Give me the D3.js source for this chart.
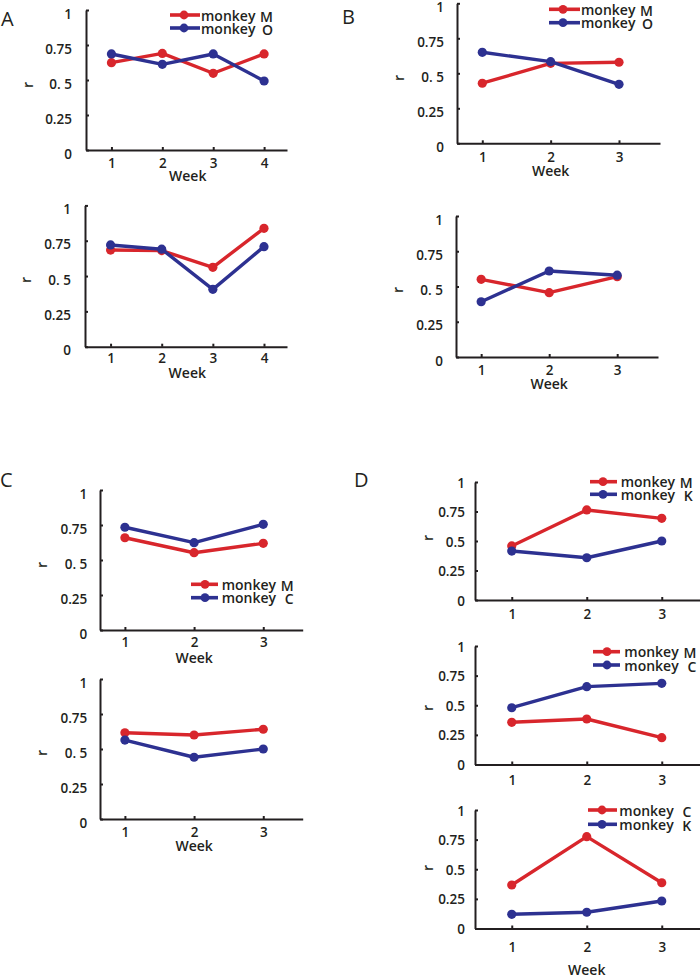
<!DOCTYPE html>
<html><head><meta charset="utf-8">
<script src="https://cdn.jsdelivr.net/npm/d3@7"></script>
<style>
html,body{margin:0;padding:0;background:#fff;}
svg{display:block;font-family:"Open Sans",sans-serif;}
</style></head><body>
<svg id="chart" width="700" height="976"></svg>
<script>
// ---------- data ----------
const weeksA = [1, 2, 3, 4];
const weeksBCD = [1, 2, 3];
const yTickValues = [0, 0.25, 0.5, 0.75, 1];
const yTickLabelsABC = ["0", "0.25", "0. 5", "0.75", "1"];
const yTickLabelsD = ["0", "0.25", "0.5", "0.75", "1"];
const xAxisTitle = "Week";
const yAxisTitle = "r";
const legendWord = "monkey";
const panelLetters = ["A", "B", "C", "D"];

const legendMO = ["M", "O"];
const legendMC = ["M", "C"];
const legendMK = ["M", "K"];
const legendCK = ["C", "K"];

const aTopMonkeyM = [0.624, 0.69, 0.548, 0.686];
const aTopMonkeyO = [0.686, 0.612, 0.686, 0.493];
const aBotMonkeyM = [0.684, 0.68, 0.562, 0.838];
const aBotMonkeyO = [0.72, 0.69, 0.406, 0.708];

const bTopMonkeyM = [0.429, 0.571, 0.579];
const bTopMonkeyO = [0.65, 0.583, 0.421];
const bBotMonkeyM = [0.551, 0.456, 0.57];
const bBotMonkeyO = [0.392, 0.61, 0.58];

const cTopMonkeyM = [0.659, 0.552, 0.619];
const cTopMonkeyC = [0.734, 0.624, 0.755];
const cBotMonkeyM = [0.616, 0.6, 0.641];
const cBotMonkeyC = [0.564, 0.441, 0.5];

const dTopMonkeyM = [0.458, 0.763, 0.692];
const dTopMonkeyK = [0.415, 0.358, 0.5];
const dMidMonkeyM = [0.356, 0.384, 0.226];
const dMidMonkeyC = [0.479, 0.657, 0.685];
const dBotMonkeyC = [0.367, 0.775, 0.386];
const dBotMonkeyK = [0.12, 0.137, 0.232];

// ---------- styles ----------
const RED = "#d8262c";
const BLUE = "#2d3191";
const INK = "#231f20";

// ---------- layout ----------
const panels = [
  {weeks: weeksA, red: aTopMonkeyM, blue: aTopMonkeyO, yLabels: yTickLabelsABC,
   ax: 86, xEnd: 287, xDom: [0.5, 4.45], y0: 150, y1: 10, labPad: 14, labDy: 3,
   xlabDy: 13, weekDy: 25, rPos: [27, 85],
   legend: legendMO, leg: {x1: 170, x2: 200, mx: 184, tx: 201, y: 15, dy: 13}},
  {weeks: weeksA, red: aBotMonkeyM, blue: aBotMonkeyO, yLabels: yTickLabelsABC,
   ax: 85, xEnd: 287, xDom: [0.5, 4.45], y0: 346.7, y1: 205.4, labPad: 14, labDy: 3,
   xlabDy: 11.5, weekDy: 26, rPos: [25, 280]},
  {weeks: weeksBCD, red: bTopMonkeyM, blue: bTopMonkeyO, yLabels: yTickLabelsABC,
   ax: 457, xEnd: 660, xDom: [0.63, 3.6], y0: 143.3, y1: 3.3, labPad: 13, labDy: 3,
   xlabDy: 13.4, weekDy: 27.4, rPos: [398, 78],
   legend: legendMO, leg: {x1: 549, x2: 580, mx: 563, tx: 581, y: 9.3, dy: 13.4}},
  {weeks: weeksBCD, red: bBotMonkeyM, blue: bBotMonkeyO, yLabels: yTickLabelsABC,
   ax: 456, xEnd: 658, xDom: [0.63, 3.6], y0: 357, y1: 216, labPad: 13, labDy: 3,
   xlabDy: 13, weekDy: 26.3, rPos: [397.7, 290]},
  {weeks: weeksBCD, red: cTopMonkeyM, blue: cTopMonkeyC, yLabels: yTickLabelsABC,
   ax: 100, xEnd: 302.7, xDom: [0.64, 3.57], y0: 630, y1: 490, labPad: 12.7, labDy: 3,
   xlabDy: 12, weekDy: 27, rPos: [41.7, 565],
   legend: legendMC, leg: {x1: 191, x2: 218, mx: 205, tx: 221.7, y: 584.3, dy: 13.4}},
  {weeks: weeksBCD, red: cBotMonkeyM, blue: cBotMonkeyC, yLabels: yTickLabelsABC,
   ax: 100, xEnd: 302.7, xDom: [0.64, 3.57], y0: 819, y1: 679, labPad: 12.7, labDy: 3,
   xlabDy: 12.7, weekDy: 26, rPos: [41.7, 753]},
  {weeks: weeksBCD, red: dTopMonkeyM, blue: dTopMonkeyK, yLabels: yTickLabelsD,
   ax: 475, xEnd: 700, xDom: [0.51, 3.51], y0: 600, y1: 482, labPad: 10, labDy: 0,
   xlabDy: 14, weekDy: null, rPos: [427.3, 538],
   legend: legendMK, leg: {x1: 590, x2: 617, mx: 603, tx: 620.7, y: 481.7, dy: 12.6}},
  {weeks: weeksBCD, red: dMidMonkeyM, blue: dMidMonkeyC, yLabels: yTickLabelsD,
   ax: 475, xEnd: 700, xDom: [0.51, 3.51], y0: 764.5, y1: 646, labPad: 10, labDy: 0,
   xlabDy: 15.5, weekDy: null, rPos: [427.3, 708],
   legend: legendMC, leg: {x1: 593, x2: 620, mx: 607, tx: 624.3, y: 651.7, dy: 13.3}},
  {weeks: weeksBCD, red: dBotMonkeyC, blue: dBotMonkeyK, yLabels: yTickLabelsD,
   ax: 475, xEnd: 700, xDom: [0.51, 3.51], y0: 928.5, y1: 810, labPad: 10, labDy: 0,
   xlabDy: 18.2, weekDy: 40.8, rPos: [427.3, 868],
   legend: legendCK, leg: {x1: 588, x2: 617, mx: 602, tx: 619.3, y: 810, dy: 14.3}}
];

const letterPos = [[1, 26], [342, 24], [0, 487], [354, 487]];

const svg = d3.select("#chart");

panelLetters.forEach((t, i) => {
  svg.append("text").attr("x", letterPos[i][0]).attr("y", letterPos[i][1])
    .attr("font-size", 20).attr("font-weight", 400).attr("fill", INK).text(t);
});

panels.forEach(p => {
  const g = svg.append("g");
  const x = d3.scaleLinear().domain(p.xDom).range([p.ax, p.xEnd]);
  const y = d3.scaleLinear().domain([0, 1]).range([p.y0, p.y1]);

  // y axis
  const ya = g.append("g").attr("transform", `translate(${p.ax},0)`)
    .call(d3.axisLeft(y).tickValues(yTickValues)
      .tickFormat((d, i) => p.yLabels[i]).tickSizeInner(-3).tickSizeOuter(0).tickPadding(p.labPad));
  // x axis
  const xa = g.append("g").attr("transform", `translate(0,${p.y0})`)
    .call(d3.axisBottom(x).tickValues(p.weeks).tickFormat(d3.format("d"))
      .tickSizeInner(-3).tickSizeOuter(0).tickPadding(0));
  [ya, xa].forEach(a => {
    a.select(".domain").attr("stroke", INK).attr("stroke-width", 2);
    a.selectAll(".tick line").attr("stroke", INK).attr("stroke-width", 2);
    a.selectAll("text").attr("fill", INK).attr("font-size", 13.5)
      .attr("font-weight", 600).attr("font-family", '"Open Sans",sans-serif')
      .style("white-space", "pre");
  });
  ya.selectAll("text").attr("dy", null).attr("dominant-baseline", "central")
    .attr("transform", `translate(0,${p.labDy})`);
  xa.selectAll("text").attr("dy", null).attr("y", p.xlabDy)
    .attr("dominant-baseline", "central");

  if (p.weekDy !== null) {
    g.append("text").attr("x", (x(p.weeks[0]) + x(p.weeks[p.weeks.length - 1])) / 2)
      .attr("y", p.y0 + p.weekDy).attr("text-anchor", "middle")
      .attr("dominant-baseline", "central").attr("font-size", 14)
      .attr("font-weight", 600).attr("fill", INK).text(xAxisTitle);
  }
  g.append("text").attr("transform", `translate(${p.rPos[0]},${p.rPos[1]}) rotate(-90)`)
    .attr("text-anchor", "middle").attr("dominant-baseline", "central")
    .attr("font-size", 14).attr("font-weight", 600).attr("fill", INK).text(yAxisTitle);

  const line = d3.line().x((d, i) => x(p.weeks[i])).y(d => y(d));
  [[p.red, RED], [p.blue, BLUE]].forEach(([vals, col]) => {
    g.append("path").datum(vals).attr("d", line).attr("fill", "none")
      .attr("stroke", col).attr("stroke-width", 3.4).attr("stroke-linejoin", "round");
    g.selectAll(null).data(vals).enter().append("circle")
      .attr("cx", (d, i) => x(p.weeks[i])).attr("cy", d => y(d)).attr("r", 4.6)
      .attr("fill", col);
  });

  if (p.legend) {
    const L = p.leg;
    [RED, BLUE].forEach((col, i) => {
      const yy = L.y + i * L.dy;
      g.append("line").attr("x1", L.x1).attr("x2", L.x2).attr("y1", yy).attr("y2", yy)
        .attr("stroke", col).attr("stroke-width", 3.6);
      g.append("circle").attr("cx", L.mx).attr("cy", yy).attr("r", 4.4).attr("fill", col);
      g.append("text").attr("x", L.tx).attr("y", yy).attr("dominant-baseline", "central")
        .attr("font-size", 14).attr("font-weight", 600).attr("fill", INK).text(legendWord);
      g.append("text").attr("x", L.tx + 72).attr("y", yy + 1).attr("text-anchor", "end")
        .attr("dominant-baseline", "central")
        .attr("font-size", 14).attr("font-weight", 600).attr("fill", INK).text(p.legend[i]);
    });
  }
});
</script>
</body></html>
